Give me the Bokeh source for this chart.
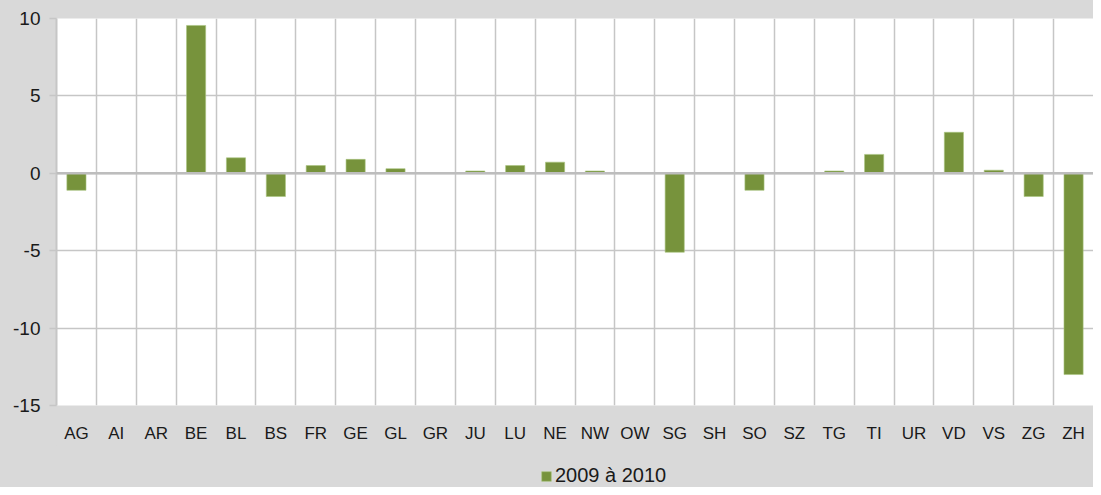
from bokeh.plotting import figure
from bokeh.layouts import column
from bokeh.models import ColumnDataSource, FixedTicker, Grid, Span, Legend, LegendItem
from bokeh.embed import file_html
from bokeh.resources import INLINE

cantons = ["AG", "AI", "AR", "BE", "BL", "BS", "FR", "GE", "GL", "GR", "JU", "LU", "NE",
           "NW", "OW", "SG", "SH", "SO", "SZ", "TG", "TI", "UR", "VD", "VS", "ZG", "ZH"]
values = [-1.1, 0.0, 0.0, 9.55, 1.0, -1.5, 0.5, 0.9, 0.3, 0.0, 0.15, 0.5, 0.72,
          0.15, 0.0, -5.1, 0.05, -1.1, 0.0, 0.15, 1.22, 0.0, 2.65, 0.2, -1.5, -13.0]
series_name = "2009 à 2010"
y_ticks = [-15, -10, -5, 0, 5, 10]
y_labels = ["-15", "-10", "-5", "0", "5", "10"]

BG = "#d9d9d9"
GREEN = "#77933c"
EDGE = "#a9c47f"
GRID = "#c6c6c6"
FONT = "Liberation Sans"

n = len(cantons)
xs = [i + 0.5 for i in range(n)]
src = ColumnDataSource(dict(x=xs, top=values, name=cantons))

p = figure(width=1093, height=445, x_range=(0, n), y_range=(-15, 10),
           output_backend="svg", toolbar_location=None,
           background_fill_color="white", border_fill_color=BG,
           min_border_left=56, min_border_right=0, min_border_top=18, min_border_bottom=37)
p.outline_line_color = None

r = p.vbar(x="x", top="top", bottom=0, width=0.48, source=src,
           fill_color=GREEN, line_color=EDGE, line_width=0.6)

# grids
p.xgrid.visible = False
p.ygrid.ticker = FixedTicker(ticks=y_ticks)
p.ygrid.grid_line_color = GRID
p.ygrid.grid_line_width = 1.5
vgrid = Grid(dimension=0, ticker=FixedTicker(ticks=list(range(n + 1))),
             grid_line_color=GRID, grid_line_width=1.5)
p.add_layout(vgrid)
p.add_layout(Span(location=0, dimension="width", line_color="#bdbdbd", line_width=2.5))

# x axis
p.xaxis.ticker = FixedTicker(ticks=xs)
p.xaxis.major_label_overrides = {x: c for x, c in zip(xs, cantons)}
p.xaxis.axis_line_color = None
p.xaxis.major_tick_line_color = None
p.xaxis.minor_tick_line_color = None
p.xaxis.major_label_standoff = 12
p.xaxis.major_label_text_font = FONT
p.xaxis.major_label_text_font_size = "17px"
p.xaxis.major_label_text_color = "#1a1a1a"

# y axis
p.yaxis.ticker = FixedTicker(ticks=y_ticks)
p.yaxis.major_label_overrides = {t: s for t, s in zip(y_ticks, y_labels)}
p.yaxis.axis_line_color = GRID
p.yaxis.axis_line_width = 2
p.yaxis.major_tick_line_color = GRID
p.yaxis.major_tick_line_width = 1.5
p.yaxis.major_tick_out = 7
p.yaxis.major_tick_in = 0
p.yaxis.minor_tick_line_color = None
p.yaxis.major_label_standoff = 9
p.yaxis.major_label_text_font = FONT
p.yaxis.major_label_text_font_size = "19px"
p.yaxis.major_label_text_color = "#1a1a1a"

# legend strip below the chart
pl = figure(width=1093, height=42, x_range=(0, 1), y_range=(0, 1),
            output_backend="svg", toolbar_location=None,
            background_fill_color=BG, background_fill_alpha=0, border_fill_color=BG,
            min_border=0)
pl.outline_line_color = None
pl.axis.visible = False
pl.grid.visible = False
# swatch renderer for the legend key (kept outside the visible range)
key = pl.vbar(x=[-5], top=[-5], bottom=[-6], width=0.5,
              fill_color=GREEN, line_color=EDGE, line_width=0.6)

legend = Legend(items=[LegendItem(label=series_name, renderers=[key])],
                location=(484, 0), orientation="horizontal",
                background_fill_alpha=0, border_line_color=None,
                padding=0, margin=0, glyph_width=12, glyph_height=12,
                label_standoff=3, spacing=0,
                label_text_font=FONT, label_text_font_size="20px",
                label_text_color="#1a1a1a")
pl.add_layout(legend, "center")

layout = column(p, pl, spacing=0, styles={"background-color": BG})
open("out.html", "w").write(file_html(layout, INLINE))
